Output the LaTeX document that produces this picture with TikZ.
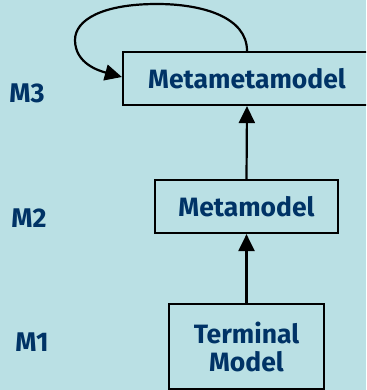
\documentclass[tikz,border=0pt]{standalone}
\usepackage{fontspec}
\setmainfont{Fira Sans}
\usetikzlibrary{arrows.meta}
\definecolor{bgc}{RGB}{186,224,228}
\definecolor{txt}{RGB}{0,51,102}
\tikzset{
  lvlbox/.style={draw=black, line width=2.2pt, fill=bgc, text=txt, font=\fontsize{26.5}{29}\selectfont\bfseries, align=center, inner sep=0pt},
  lvllabel/.style={text=txt, font=\fontsize{27}{29}\selectfont\bfseries, inner sep=0pt},
  conn/.style={draw=black, line width=2.2pt, -{Triangle[length=17pt,width=16pt]}},
}
\begin{document}
\begin{tikzpicture}[x=1pt,y=-1pt]
\useasboundingbox (0,0) rectangle (366,390);
\clip (0,0) rectangle (366,390);
\fill[bgc] (0,0) rectangle (366,390);
\node[lvlbox, minimum width=248pt, minimum height=53pt] (mmm) at (247,78.5) {Metametamodel};
\node[lvlbox, minimum width=183pt, minimum height=53pt] (mm) at (246.5,206.5) {Metamodel};
\node[lvlbox, minimum width=155pt, minimum height=85pt] (tm) at (246.5,346.5) {Terminal\\[-1pt]Model};
\node[lvllabel] (m3) at (27,93) {M3};
\node[lvllabel] (m2) at (29,218) {M2};
\node[lvllabel] (m1) at (32,342) {M1};
\draw[conn] (tm.north) -- (mm.south);
\draw[conn] (mm.north) -- (mmm.south);
\coordinate (top) at (157,4);
\coordinate (left) at (75,40);
\draw[conn] (mmm.north) .. controls ++(0,-34) and ++(45,0) .. (top)
  .. controls ++(-55,0) and ++(0,-20) .. (left)
  .. controls ++(0,24) and ++(-22,-6) .. ([yshift=1.5pt]mmm.west);
\end{tikzpicture}
\end{document}
